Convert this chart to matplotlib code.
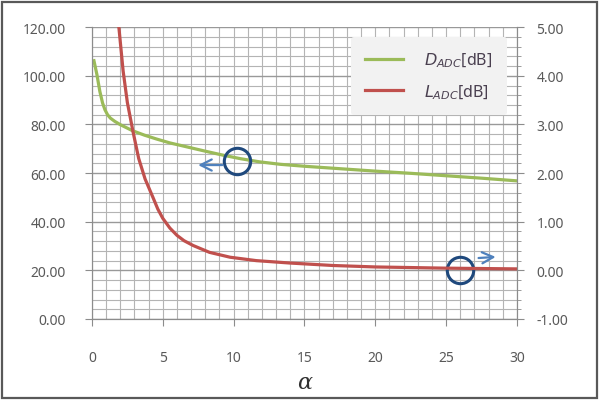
import numpy as np
import matplotlib
matplotlib.use('Agg')
from matplotlib import pyplot as plt
from matplotlib.patches import Rectangle
from matplotlib.ticker import MultipleLocator, FormatStrFormatter

plt.rcParams['font.family'] = ['Noto Sans', 'DejaVu Sans']

# D_ADC (left axis)
alpha_d = [0.14, 0.35, 0.56, 0.75, 0.92, 1.1, 1.3, 1.6, 2.0, 2.87, 3.7, 4.56, 5.5, 6.9, 8.0, 9.3, 10.5, 11.85, 13.3, 15, 17.5, 20, 22.5, 25, 27.5, 30]
d_adc = [106.2, 100.5, 93.5, 88.8, 86.0, 84.0, 82.6, 81.3, 79.9, 77.4, 75.6, 74.0, 72.4, 70.5, 69.0, 67.3, 65.9, 64.6, 63.6, 62.8, 61.8, 60.8, 59.9, 58.9, 57.9, 56.8]

# L_ADC (right axis)
alpha_l = [1.85, 2.2, 2.5, 2.9, 3.3, 3.75, 4.35, 4.65, 5.0, 5.5, 6.0, 6.5, 7.15, 8.3, 9.75, 11.6, 14, 17, 20, 25, 30]
l_adc = [5.15, 4.1, 3.45, 2.85, 2.3, 1.88, 1.47, 1.26, 1.07, 0.87, 0.72, 0.61, 0.51, 0.37, 0.27, 0.2, 0.15, 0.1, 0.07, 0.045, 0.03]

green = '#9bbb59'
red = '#c0504d'
txt = '#595959'

fig = plt.figure(figsize=(6.01, 4.02), dpi=100)
ax = fig.add_axes([0.153, 0.204, 0.707, 0.726])
ax2 = ax.twinx()

ax.set_xlim(0, 30)
ax.set_ylim(0, 120)
ax2.set_ylim(-1, 5)

ax.xaxis.set_major_locator(MultipleLocator(5))
ax.xaxis.set_minor_locator(MultipleLocator(1))
ax.yaxis.set_major_locator(MultipleLocator(20))
ax.yaxis.set_minor_locator(MultipleLocator(4))
ax.yaxis.set_major_formatter(FormatStrFormatter('%.2f'))
ax2.yaxis.set_major_locator(MultipleLocator(1))
ax2.yaxis.set_minor_locator(MultipleLocator(0.2))
ax2.yaxis.set_major_formatter(FormatStrFormatter('%.2f'))

ax.grid(which='minor', color='#b4b4b4', lw=0.8)
ax.grid(which='major', axis='x', color='#b4b4b4', lw=0.8)
ax.grid(which='major', axis='y', color='#999999', lw=1.0)
ax.set_axisbelow(True)

for a in (ax, ax2):
    for s in a.spines.values():
        s.set_color('#8c8c8c')
    a.spines['top'].set_visible(False)
ax.tick_params(which='major', length=5, color='#8c8c8c', labelsize=10, labelcolor=txt)
ax.tick_params(which='minor', length=0)
ax.tick_params(axis='x', pad=17)
ax.tick_params(axis='y', pad=14)
ax2.tick_params(which='major', length=5, color='#8c8c8c', labelsize=10, labelcolor=txt, pad=9)
ax2.tick_params(which='minor', length=3, color='#8c8c8c')

ax.plot(alpha_d, d_adc, color=green, lw=2.3, label='$D_{ADC}$[dB]')
ax2.plot(alpha_l, l_adc, color=red, lw=2.3, label='$L_{ADC}$[dB]')

fig.text(0.507, 0.047, 'α', fontsize=16, style='italic', family='DejaVu Serif',
         color='#303030', ha='center', va='center')

# circles and arrows marking which axis each curve belongs to
ax.plot(10.23, 64.9, marker='o', ms=19, mfc='none', mec='#1f497d', mew=2.2, clip_on=False)
ax.annotate('', xy=(7.3, 63.3), xytext=(9.4, 63.3),
            arrowprops=dict(arrowstyle='->,head_length=0.8,head_width=0.4', color='#4f81bd', lw=1.6))
ax.plot(26.0, 20.1, marker='o', ms=19, mfc='none', mec='#1f497d', mew=2.2, clip_on=False, zorder=5)
ax.annotate('', xy=(28.7, 25.6), xytext=(27.1, 25.0),
            arrowprops=dict(arrowstyle='->,head_length=0.8,head_width=0.4', color='#4f81bd', lw=1.6),
            zorder=5)

h1, l1 = ax.get_legend_handles_labels()
h2, l2 = ax2.get_legend_handles_labels()
leg = ax2.legend(h1 + h2, l1 + l2, loc='upper right', fontsize=11.5, frameon=True,
                 facecolor='#f2f2f2', edgecolor='none', framealpha=1, handlelength=2.4,
                 handletextpad=1.3, borderpad=0.9, labelspacing=0.8,
                 bbox_to_anchor=(0.995, 0.995))
for t in leg.get_texts():
    t.set_color('#4a4050')

fig.patches.append(Rectangle((0.004, 0.008), 0.99, 0.985, transform=fig.transFigure,
                             fill=False, edgecolor='#595959', lw=1.6))

plt.savefig('out.png', dpi=100)
